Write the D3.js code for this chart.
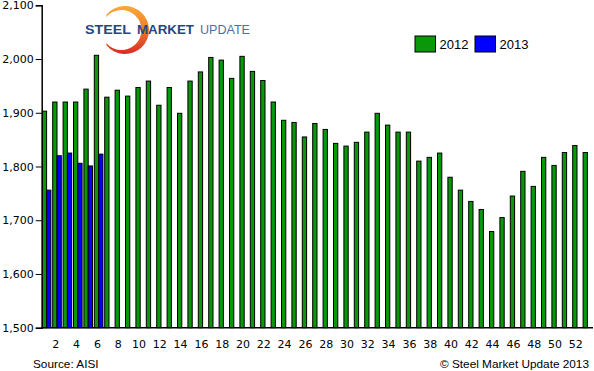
<!DOCTYPE html>
<html>
<head>
<meta charset="utf-8">
<script src="https://cdn.jsdelivr.net/npm/d3@7"></script>
<style>
	body{margin:0;background:#fff}
	svg text{font-family:"DejaVu Sans",sans-serif}
	.x-axis path,.x-axis line{display:none}
</style>
</head>
<body>
<div class="chart"></div>
<script>
// weekly values
const weeks=d3.range(1,54)
const values2012=[1903,1920,1920,1920,1944,2007,1929,1942,1931,1947,1959,1914,1947,1899,1959,1976,2003,1998,1964,2005,1977,1960,1920,1886,1882,
	1855,1880,1869,1843,1838,1845,1864,1899,1877,1864,1864,1810,1817,1825,1780,1756,1735,1720,1679,1705,1745,1791,1763,1817,1802,1826,1839,1826]
const values2013=[1756,1820,1825,1806,1801,1823]
const yTicks=[1500,1600,1700,1800,1900,2000,2100]
const seriesNames=['2012','2013']
const colors={'2012':'#0a980a','2013':'#0000ff'}

const width=594,height=371
const margin=({top:5.3, right:1, bottom:43.3, left:41.7})
const innerW=width-margin.left-margin.right,
	innerH=height-margin.top-margin.bottom

const svg=d3.select('.chart').append('svg')
	.attr('width',width)
	.attr('height',height)

const g=svg.append('g')
	.attr('transform','translate('+margin.left+','+margin.top+')')

let xScale=d3.scaleBand()
	.domain(weeks)
	.range([0,53*10.4])

let xSeries=d3.scaleBand()
	.domain(seriesNames)
	.range([0.6,9.2])

let yScale=d3.scaleLinear()
	.domain([1500,2100])
	.range([innerH,0])

// logo
const logo=svg.append('g').attr('class','logo')
const grad=svg.append('defs').append('linearGradient')
	.attr('id','arcGrad').attr('x1',0).attr('y1',0).attr('x2',0).attr('y2',1)
grad.append('stop').attr('offset','0%').attr('stop-color','#f8ab3a')
grad.append('stop').attr('offset','50%').attr('stop-color','#f07a26')
grad.append('stop').attr('offset','100%').attr('stop-color','#d82a28')
logo.append('path')
	.attr('d','M106.6,14.6 A24,24 0 1,1 106.6,45.4 L106.2,42.9 A20,20 0 1,0 106.2,17.1 Z')
	.attr('fill','url(#arcGrad)')
logo.append('text').attr('x',85).attr('y',34.3).attr('textLength',46).attr('lengthAdjust','spacingAndGlyphs')
	.style('font-family','"Liberation Sans",sans-serif').style('font-weight','bold').style('font-size','12.5px')
	.attr('fill','#27467f').text('STEEL')
logo.append('text').attr('x',137).attr('y',34.3).attr('textLength',57).attr('lengthAdjust','spacingAndGlyphs')
	.style('font-family','"Liberation Sans",sans-serif').style('font-weight','bold').style('font-size','12.5px')
	.attr('fill','#27467f').text('MARKET')
logo.append('text').attr('x',200).attr('y',34.3).attr('textLength',50).attr('lengthAdjust','spacingAndGlyphs')
	.style('font-family','"Liberation Sans",sans-serif').style('font-size','12.5px')
	.attr('fill','#4d6ea8').text('UPDATE')

// bars
const rows=[]
weeks.forEach((w,i)=>{
	rows.push({week:w,series:'2012',value:values2012[i]})
	if(i<values2013.length) rows.push({week:w,series:'2013',value:values2013[i]})
})

g.selectAll('.bar')
	.data(rows)
	.enter()
	.append('rect')
	.attr('class','bar')
	.attr('x',d=>xScale(d.week)+xSeries(d.series))
	.attr('y',d=>yScale(d.value))
	.attr('width',xSeries.bandwidth())
	.attr('height',d=>innerH-yScale(d.value))
	.attr('fill',d=>colors[d.series])
	.attr('stroke','#000')
	.attr('stroke-width',1)

// axes
const yAxis=d3.axisLeft(yScale)
	.tickValues(yTicks)
	.tickSize(6)
	.tickFormat(d3.format(','))

g.append('g')
	.attr('class','y-axis')
	.call(yAxis)
	.call(s=>s.select('.domain').attr('stroke','#000').attr('stroke-width',1.5))
	.selectAll('text')
	.attr('x',-8)
	.style('font-size','11px')
	.attr('fill','#000')

g.append('line')
	.attr('x1',0).attr('x2',innerW)
	.attr('y1',innerH).attr('y2',innerH)
	.attr('stroke','#000').attr('stroke-width',1.5)

const xAxis=d3.axisBottom(xScale)
	.tickValues(weeks.filter(w=>w%2==0))
	.tickSize(0)

g.append('g')
	.attr('class','x-axis')
	.attr('transform',`translate(0,${innerH})`)
	.call(xAxis)
	.selectAll('text')
	.attr('dx',-1.5)
	.attr('y',13)
	.style('font-size','11px')
	.attr('fill','#000')

// legend
const legend=svg.append('g').attr('class','legend')
	.attr('transform','translate(415,36)')
seriesNames.forEach((s,i)=>{
	legend.append('rect')
		.attr('x',i*60).attr('y',0)
		.attr('width',20.5).attr('height',16)
		.attr('fill',colors[s]).attr('stroke','#000').attr('stroke-width',1)
	legend.append('text')
		.attr('x',i*60+24.5).attr('y',13)
		.style('font-family','"Liberation Sans",sans-serif')
		.style('font-size','13px')
		.text(s)
})

svg.append('text')
	.attr('x',33).attr('y',368)
	.style('font-family','"Liberation Sans",sans-serif')
	.style('font-size','11.8px')
	.text('Source: AISI')

svg.append('text')
	.attr('x',589).attr('y',368)
	.attr('text-anchor','end')
	.style('font-family','"Liberation Sans",sans-serif')
	.style('font-size','11.8px')
	.text('© Steel Market Update 2013')
</script>
</body>
</html>
